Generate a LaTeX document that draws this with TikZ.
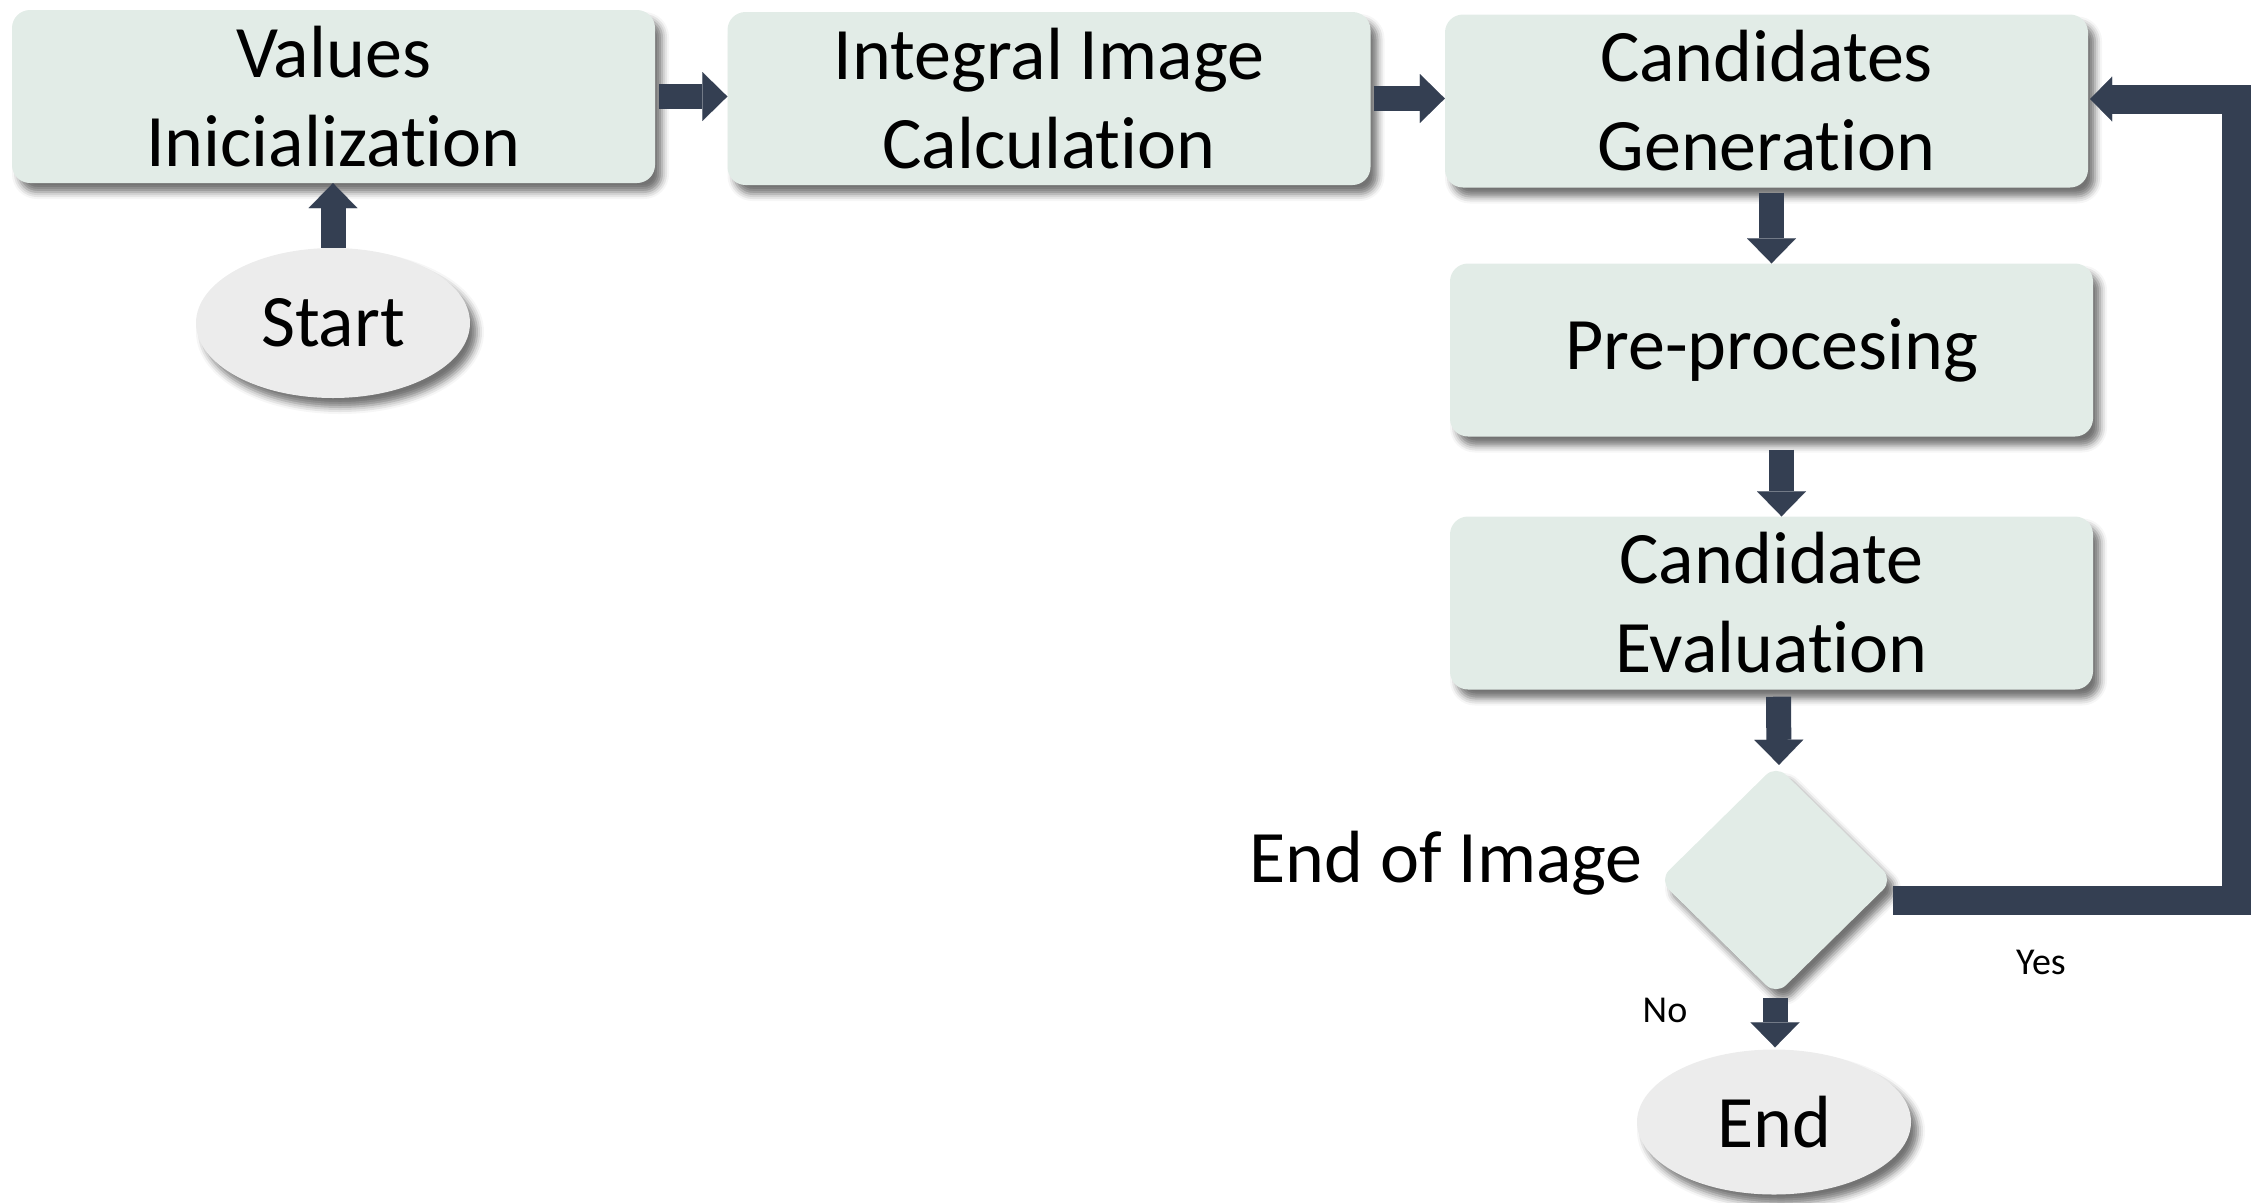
\documentclass[tikz,border=0pt]{standalone}
\usepackage{fontspec}
\setmainfont[Ligatures=NoCommon]{Carlito}
\usetikzlibrary{arrows.meta,shapes.geometric,shadows.blur,calc}
\definecolor{boxfill}{HTML}{E2ECE7}
\definecolor{ellfill}{HTML}{ECECEC}
\definecolor{arrcol}{HTML}{343F52}
\tikzset{
  shd/.style={blur shadow={shadow xshift=7pt, shadow yshift=-9pt, shadow blur radius=7pt, shadow opacity=55}},
  procbox/.style={shd, fill=boxfill, draw=none, rounded corners=18pt, minimum width=643pt, minimum height=173pt, align=center, inner sep=0pt, font=\fontsize{74}{89}\selectfont},
  termell/.style={shd, ellipse, fill=ellfill, draw=none, inner sep=0pt, font=\fontsize{74}{89}\selectfont},
  decis/.style={shd, diamond, fill=boxfill, draw=none, inner sep=0pt, minimum width=234pt, minimum height=230pt, rounded corners=14pt},
  lab/.style={font=\fontsize{74}{89}\selectfont, inner sep=0pt},
  smlab/.style={font=\fontsize{38}{46}\selectfont, inner sep=0pt},
  arr/.style={draw=arrcol, line width=25pt, -{Triangle[length=25pt, width=49pt, line width=0.01pt]}},
  yesarr/.style={draw=arrcol, line width=29pt, line join=miter, -{Triangle[length=22pt, width=45pt, line width=0.01pt]}}
}
\begin{document}
\begin{tikzpicture}[x=1pt,y=-1pt]
\useasboundingbox (0,0) rectangle (2262,1202);
\node[procbox] (b1) at (333.5,96.5) {Values\\Inicialization};
\node[procbox] (b2) at (1049,98.5) {Integral Image\\Calculation};
\node[procbox] (b3) at (1766.5,101) {Candidates\\Generation};
\node[procbox] (b4) at (1771.5,350) {Pre-procesing};
\node[procbox] (b5) at (1771.5,603) {Candidate\\Evaluation};
\node[decis] (dia) at (1776,880) {};
\node[termell, minimum width=274pt, minimum height=150pt] (start) at (333,323) {Start};
\node[termell, minimum width=274pt, minimum height=145pt] (end) at (1774,1122) {End};
\node[lab, anchor=east] (eoi) at (1643,863) {End of Image};
\node[smlab] (yes) at (2041,962) {Yes};
\node[smlab] (no) at (1665,1010) {No};
\coordinate (yc) at (2236,900);
\draw[arr] ($(b1.east)+(4,0)$) -- (b2.west |- b1.east);
\draw[arr] ($(b2.east)+(3,0)$) -- (b3.west |- b2.east);
\draw[arr] (start.north) -- (b1.south -| start.north);
\draw[arr] ($(b3.south -| b4.north)+(0,5)$) -- (b4.north);
\draw[arr] ($(b4.south)+(10,13)$) -- ($(b5.north)+(10,0)$);
\draw[arr] ($(b5.south)+(7,7)$) -- (dia.north -| 1779,0);
\draw[arr] ($(dia.south)+(-1,3)$) -- ($(end.north)+(1,-2)$);
\draw[yesarr] ($(dia.east)+(0,20)$) -- (yc) |- ($(b3.east)+(2,-2)$);
\end{tikzpicture}
\end{document}
